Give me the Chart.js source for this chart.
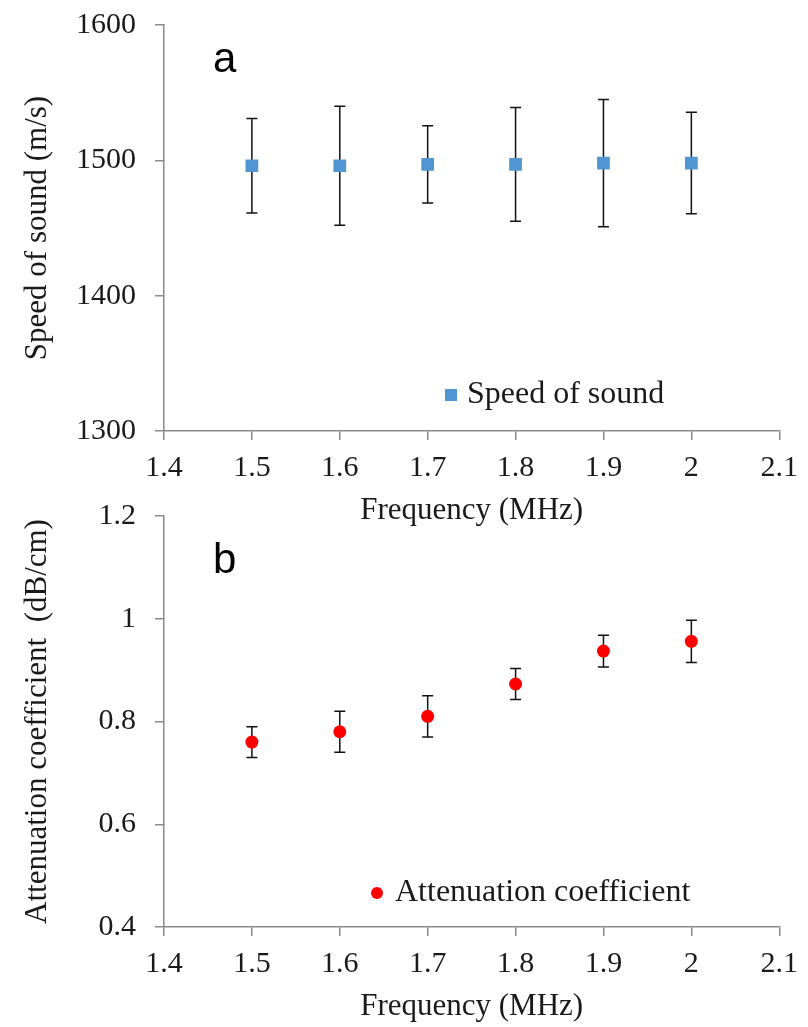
<!DOCTYPE html>
<html>
<head>
<meta charset="utf-8">
<script src="https://cdn.jsdelivr.net/npm/chart.js@4.4.1/dist/chart.umd.min.js"></script>
<style>
    body { margin: 0; background: #fff; overflow: hidden; }
    #wrap { position: relative; width: 808px; height: 1027px; overflow: hidden; }
    .box { position: absolute; left: 0; width: 808px; }
</style>
</head>
<body>
<div id="wrap">
    <div class="box" style="top:-12px;height:552px"><canvas id="speedChart"></canvas></div>
    <div class="box" style="top:470px;height:557px"><canvas id="attenChart"></canvas></div>
</div>
<script>
// values
const freq = [1.5, 1.6, 1.7, 1.8, 1.9, 2.0];
const speed = [1496, 1496, 1497, 1497, 1498, 1498];
const speedErr = [35, 44, 28.5, 42, 47, 37.5];
const atten = [0.76, 0.78, 0.81, 0.873, 0.937, 0.956];
const attenErr = [0.03, 0.04, 0.04, 0.03, 0.031, 0.041];

const freqTicks = [1.4, 1.5, 1.6, 1.7, 1.8, 1.9, 2.0, 2.1];
const speedTicks = [1300, 1400, 1500, 1600];
const attenTicks = [0.4, 0.6, 0.8, 1.0, 1.2];

const serif = 'Liberation Serif';
const textColor = '#1a1a1a';
const axisColor = '#8a8a8a';

Chart.defaults.font.family = serif;
Chart.defaults.color = textColor;

// error bars, drawn under the markers
const errorBars = {
    id: 'errorBars',
    beforeDatasetsDraw(chart) {
        const ctx = chart.ctx;
        const xs = chart.scales.x, ys = chart.scales.y;
        chart.data.datasets.forEach(ds => {
            if (!ds.errors) return;
            ctx.save();
            ctx.strokeStyle = '#111';
            ctx.lineWidth = 1.5;
            ds.data.forEach((p, i) => {
                const x = xs.getPixelForValue(p.x);
                const top = ys.getPixelForValue(p.y + ds.errors[i]);
                const bot = ys.getPixelForValue(p.y - ds.errors[i]);
                ctx.beginPath();
                ctx.moveTo(x, top); ctx.lineTo(x, bot);
                ctx.moveTo(x - 5.5, top); ctx.lineTo(x + 5.5, top);
                ctx.moveTo(x - 5.5, bot); ctx.lineTo(x + 5.5, bot);
                ctx.stroke();
            });
            ctx.restore();
        });
    }
};

// legend inside the plot + panel letter
const innerLegend = {
    id: 'innerLegend',
    afterDraw(chart, args, opts) {
        const ctx = chart.ctx;
        const ds = chart.data.datasets[0];
        ctx.save();
        ctx.fillStyle = ds.backgroundColor;
        if (ds.pointStyle === 'rect') {
            ctx.fillRect(opts.x - 6, opts.y - 6, 12, 12);
        } else {
            ctx.beginPath();
            ctx.arc(opts.x, opts.y, 6, 0, Math.PI * 2);
            ctx.fill();
        }
        ctx.fillStyle = textColor;
        ctx.font = '32px "' + serif + '"';
        ctx.textBaseline = 'middle';
        ctx.fillText(ds.label, opts.x + opts.gap, opts.y);

        ctx.font = '42px "Liberation Sans"';
        ctx.textBaseline = 'alphabetic';
        ctx.fillStyle = '#000';
        ctx.fillText(opts.letter, opts.lx, opts.ly);
        ctx.restore();
    }
};

function fmt(v) {
    return String(Number(v.toFixed(2)));
}

function makeChart(id, label, xs, ys, errs, yTicks, yTitle, style, layout) {
    return new Chart(document.getElementById(id), {
        type: 'scatter',
        data: {
            datasets: [{
                label: label,
                data: xs.map((x, i) => ({x: x, y: ys[i]})),
                errors: errs,
                backgroundColor: style.color,
                borderColor: style.color,
                pointStyle: style.point,
                pointRadius: style.radius,
                pointHoverRadius: style.radius,
                borderWidth: 0
            }]
        },
        options: {
            responsive: true,
            maintainAspectRatio: false,
            animation: false,
            layout: { padding: { left: 0, right: 20, top: layout.top, bottom: 0 } },
            plugins: {
                legend: { display: false },
                tooltip: { enabled: false },
                innerLegend: layout.legend
            },
            scales: {
                x: {
                    type: 'linear',
                    min: freqTicks[0],
                    max: freqTicks[freqTicks.length - 1],
                    afterBuildTicks: s => { s.ticks = freqTicks.map(v => ({value: v})); },
                    afterFit: s => { s.height = layout.xHeight; },
                    grid: { drawOnChartArea: false, tickLength: 9, color: axisColor, lineWidth: 1.5 },
                    border: { color: axisColor, width: 1.5 },
                    ticks: { padding: 10, font: { size: 30 }, callback: fmt },
                    title: { display: true, text: 'Frequency (MHz)', font: { size: 31 },
                             padding: { top: 0, bottom: layout.titlePad } }
                },
                y: {
                    min: yTicks[0],
                    max: yTicks[yTicks.length - 1],
                    afterBuildTicks: s => { s.ticks = yTicks.map(v => ({value: v})); },
                    afterFit: s => { s.width = 164; },
                    grid: { drawOnChartArea: false, tickLength: 9, color: axisColor, lineWidth: 1.5 },
                    border: { color: axisColor, width: 1.5 },
                    ticks: { padding: 19, font: { size: 30 }, callback: fmt },
                    title: { display: true, text: yTitle, font: { size: 31 },
                             padding: { top: 19, bottom: 0 } }
                }
            }
        },
        plugins: [errorBars, innerLegend]
    });
}

makeChart('speedChart', 'Speed of sound', freq, speed, speedErr, speedTicks,
    'Speed of sound (m/s)',
    { color: '#5096D2', point: 'rect', radius: 9 },
    { top: 23, xHeight: 109, titlePad: 11,
      legend: { x: 451, y: 407, gap: 16, letter: 'a', lx: 213, ly: 84 } });

makeChart('attenChart', 'Attenuation coefficient', freq, atten, attenErr, attenTicks,
    'Attenuation coefficient  (dB/cm)',
    { color: '#FF0000', point: 'circle', radius: 6.5 },
    { top: 46, xHeight: 100, titlePad: 2,
      legend: { x: 377, y: 423, gap: 18, letter: 'b', lx: 213, ly: 103 } });
</script>
</body>
</html>
